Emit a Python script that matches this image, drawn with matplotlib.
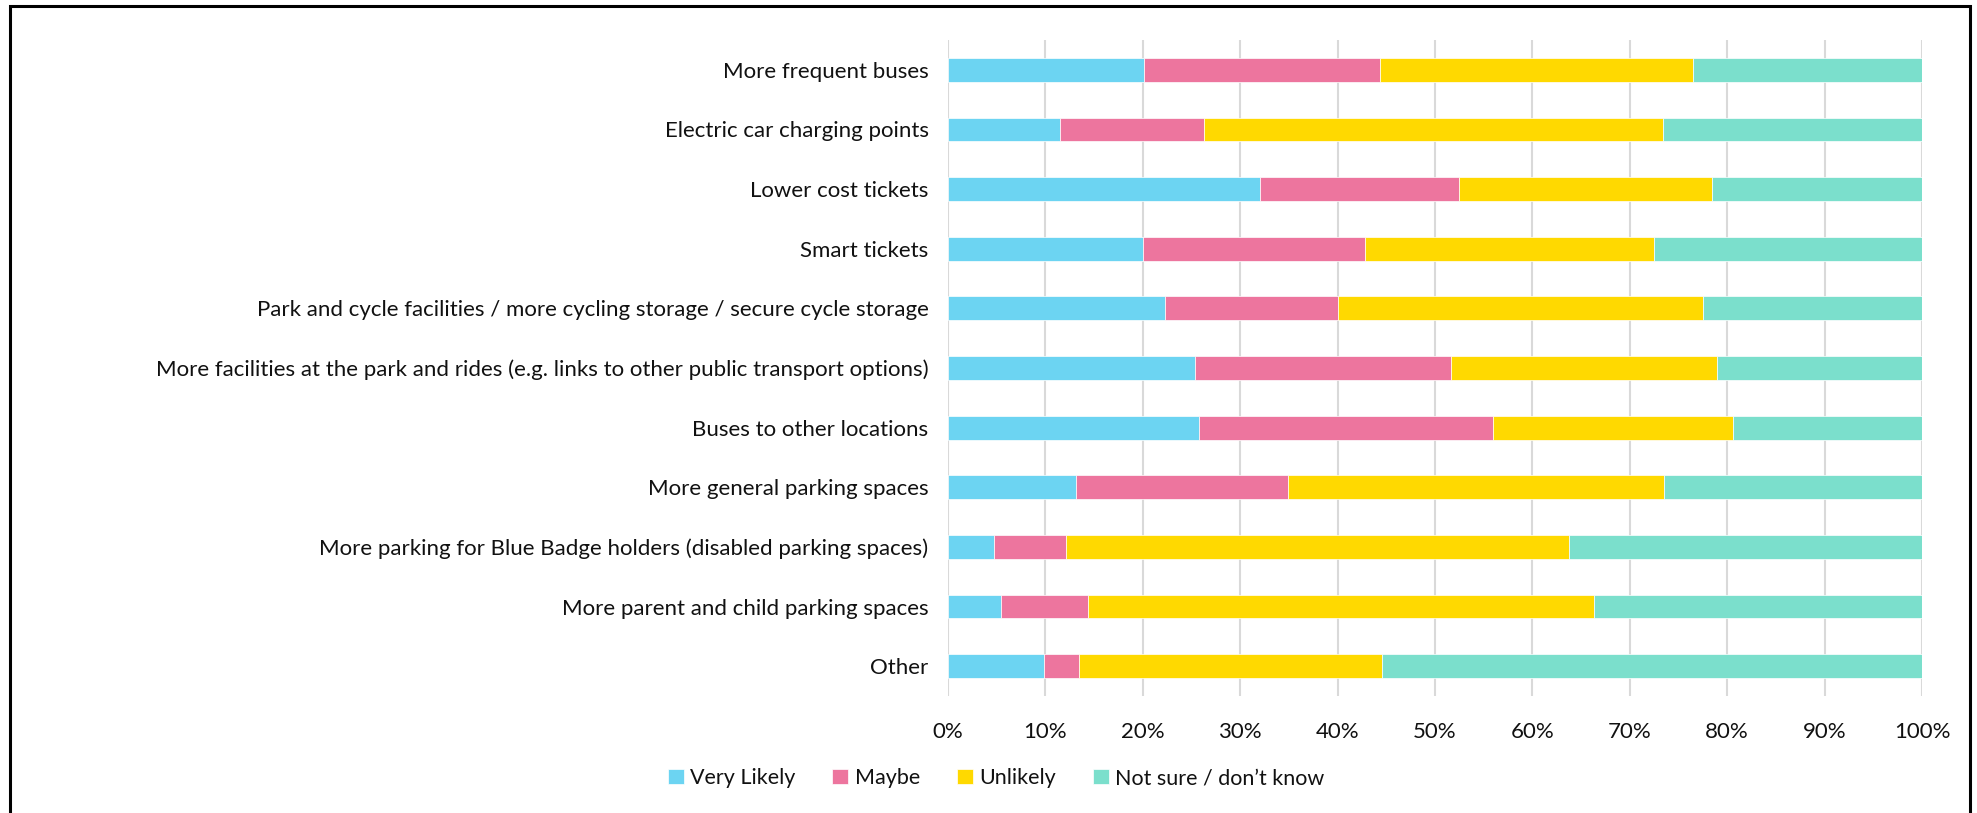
import matplotlib.pyplot as plt
from matplotlib.patches import Rectangle
from matplotlib.ticker import PercentFormatter

plt.rcParams['font.family'] = ['Lato', 'DejaVu Sans']

# survey options, top to bottom
options = [
    'More frequent buses',
    'Electric car charging points',
    'Lower cost tickets',
    'Smart tickets',
    'Park and cycle facilities / more cycling storage / secure cycle storage',
    'More facilities at the park and rides (e.g. links to other public transport options)',
    'Buses to other locations',
    'More general parking spaces',
    'More parking for Blue Badge holders (disabled parking spaces)',
    'More parent and child parking spaces',
    'Other',
]

# share of answers in percent
very_likely = [20.1, 11.5, 32.0, 20.0, 22.3, 25.4, 25.8, 13.1, 4.7, 5.4, 9.9]
maybe       = [24.3, 14.8, 20.5, 22.8, 17.7, 26.2, 30.2, 21.8, 7.4, 9.0, 3.5]
unlikely    = [32.1, 47.1, 25.9, 29.7, 37.5, 27.4, 24.6, 38.6, 51.7, 51.9, 31.2]
not_sure    = [23.5, 26.6, 21.6, 27.5, 22.5, 21.0, 19.4, 26.5, 36.2, 33.7, 55.4]

series = [
    ('Very Likely', very_likely, '#6cd4f2'),
    ('Maybe', maybe, '#ed759e'),
    ('Unlikely', unlikely, '#ffd900'),
    ('Not sure / don\u2019t know', not_sure, '#7bdfcc'),
]

W, H = 1977, 813
fig = plt.figure(figsize=(W / 100, H / 100), dpi=100)
ax = fig.add_axes([948 / W, 1 - 696 / H, (1922 - 948) / W, (696 - 40) / H])

ypos = list(range(len(options)))
left = [0.0] * len(options)
for name, vals, col in series:
    ax.barh(ypos, vals, left=left, height=0.4, color=col, label=name,
            edgecolor='white', linewidth=0.5, zorder=3)
    left = [a + b for a, b in zip(left, vals)]

ax.set_xlim(0, 100)
ax.set_ylim(len(options) - 0.5, -0.5)
ax.set_xticks(range(0, 101, 10))
ax.xaxis.set_major_formatter(PercentFormatter(decimals=0))
ax.set_yticks(ypos)
ax.set_yticklabels(options)
ax.tick_params(axis='both', length=0, labelsize=16, colors='#111111')
ax.tick_params(axis='y', pad=14)
ax.tick_params(axis='x', pad=19)
ax.grid(axis='x', color='#d9d9d9', linewidth=1.5, zorder=0)
for s in ax.spines.values():
    s.set_visible(False)

fig.legend(loc='center', bbox_to_anchor=(996 / W, 1 - 778 / H), ncol=4,
           frameon=False, fontsize=15.5, handlelength=0.75, handleheight=0.75,
           handletextpad=0.3, columnspacing=1.7, labelcolor='#111111')

# frame around the chart area, open at the bottom
fig.patches.append(Rectangle((10 / W, -0.05), (1970 - 10) / W, 1.05 - 6 / H,
                             transform=fig.transFigure, fill=False,
                             edgecolor='black', linewidth=2.2))

fig.savefig('out.png', dpi=100, facecolor='white')
